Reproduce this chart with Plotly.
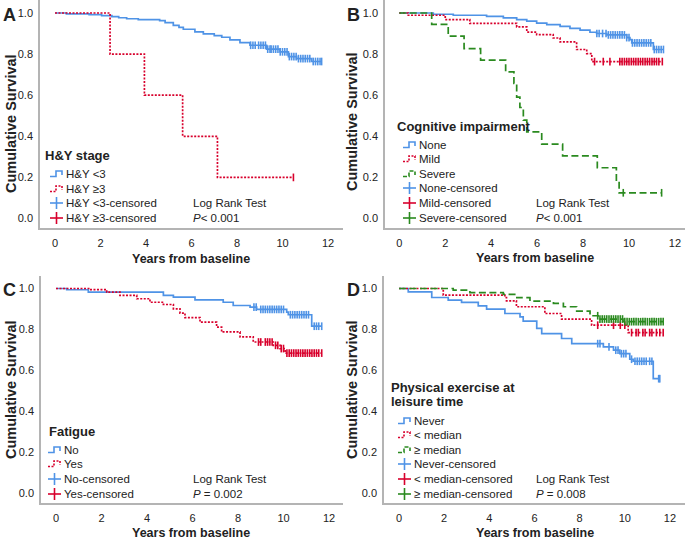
import plotly.graph_objects as go

W, H = 685, 541
FONT = "Liberation Sans, Arial, sans-serif"
BLUE = "#4f93e6"
RED = "#d8002c"
GREEN = "#2a8a1f"
AXIS = "#b4b4b4"
TXT = "#222222"
DOT = "2px,1.5px"
DASH = "7px,3.5px"

# ---------------- data ----------------
# Panel A: H&Y stage
A_lo_t = [0, 0.5, 1.5, 2.05, 2.5, 2.8, 3.15, 3.66, 4.6, 4.84, 5.2, 5.45, 5.64, 6.15, 6.52, 7.0, 7.33, 7.69, 8.13, 8.57, 9.3, 9.89, 10.26, 10.62, 11.28, 11.72]
A_lo_s = [1.0, 0.996, 0.992, 0.987, 0.982, 0.977, 0.972, 0.968, 0.963, 0.953, 0.940, 0.930, 0.921, 0.908, 0.898, 0.890, 0.882, 0.869, 0.856, 0.843, 0.824, 0.811, 0.788, 0.778, 0.764, 0.764]
A_lo_cens = [8.6, 8.7, 8.8, 8.95, 9.05, 9.15, 9.25, 9.35, 9.45, 9.5, 9.6, 9.7, 9.8, 9.9, 10.0, 10.1, 10.2, 10.3, 10.4, 10.5, 10.6, 10.7, 10.8, 10.9, 11.0, 11.1, 11.2, 11.35, 11.45, 11.55, 11.65, 11.72]
A_hi_t = [0, 2.42, 3.93, 5.61, 7.14, 10.48]
A_hi_s = [1.0, 0.8, 0.6, 0.4, 0.2, 0.2]
A_hi_cens = [10.48]

# Panel B: Cognitive impairment
B_none_t = [0, 1.48, 2.35, 3.8, 4.53, 5.11, 5.55, 5.98, 6.42, 7.0, 7.43, 7.87, 8.3, 8.59, 9.03, 9.9, 10.04, 10.12, 11.06, 11.5]
B_none_s = [1.0, 0.994, 0.989, 0.984, 0.976, 0.968, 0.96, 0.951, 0.943, 0.935, 0.925, 0.916, 0.906, 0.9, 0.893, 0.88, 0.87, 0.854, 0.822, 0.822]
B_none_cens = [8.6, 8.7, 8.85, 9.0, 9.1, 9.2, 9.3, 9.4, 9.5, 9.6, 9.7, 9.8, 9.9, 10.0, 10.15, 10.25, 10.35, 10.45, 10.55, 10.65, 10.75, 10.85, 10.95, 11.1, 11.2, 11.3, 11.4, 11.5]
B_mild_t = [0, 0.39, 2.0, 3.07, 5.11, 5.55, 5.98, 6.7, 7.0, 7.72, 8.16, 8.38, 11.45]
B_mild_s = [1.0, 0.989, 0.968, 0.949, 0.932, 0.907, 0.895, 0.878, 0.859, 0.822, 0.802, 0.763, 0.763]
B_mild_cens = [8.5, 8.88, 9.17, 9.6, 9.7, 9.8, 9.9, 10.0, 10.1, 10.2, 10.3, 10.4, 10.5, 10.6, 10.7, 10.8, 10.9, 11.0, 11.1, 11.2, 11.3, 11.45]
B_sev_t = [0, 1.41, 2.13, 2.82, 3.54, 4.63, 4.99, 5.11, 5.25, 5.4, 5.55, 6.2, 7.11, 8.62, 9.45, 9.57, 11.42]
B_sev_s = [1.0, 0.945, 0.887, 0.826, 0.77, 0.713, 0.656, 0.59, 0.539, 0.477, 0.42, 0.36, 0.303, 0.245, 0.185, 0.123, 0.123]
B_sev_cens = [9.75, 11.42]

# Panel C: Fatigue
C_no_t = [0, 0.47, 1.42, 4.72, 5.16, 6.11, 7.35, 7.79, 8.53, 8.82, 10.14, 10.21, 11.24, 11.68]
C_no_s = [1.0, 0.994, 0.982, 0.966, 0.958, 0.945, 0.933, 0.917, 0.909, 0.898, 0.885, 0.872, 0.816, 0.816]
C_no_cens = [8.7, 8.8, 9.0, 9.1, 9.2, 9.3, 9.4, 9.5, 9.6, 9.7, 9.8, 9.9, 10.0, 10.3, 10.4, 10.5, 10.6, 10.7, 10.8, 10.9, 11.0, 11.1, 11.35, 11.45, 11.55, 11.68]
C_yes_t = [0, 1.49, 2.23, 2.81, 3.55, 4.13, 4.72, 5.16, 5.45, 5.67, 6.33, 7.06, 7.28, 8.09, 8.67, 9.55, 9.85, 10.07, 11.68]
C_yes_s = [1.0, 0.995, 0.982, 0.966, 0.95, 0.933, 0.922, 0.901, 0.88, 0.858, 0.836, 0.812, 0.788, 0.764, 0.739, 0.723, 0.707, 0.685, 0.685]
C_yes_cens = [8.9, 9.0, 9.2, 9.3, 9.4, 9.5, 9.65, 9.75, 9.9, 10.0, 10.15, 10.25, 10.35, 10.45, 10.55, 10.65, 10.75, 10.85, 10.95, 11.05, 11.15, 11.25, 11.35, 11.45, 11.55, 11.68]

# Panel D: Physical exercise at leisure time
D_never_t = [0, 0.41, 1.45, 2.18, 2.77, 3.51, 3.88, 4.69, 5.36, 5.5, 6.1, 6.32, 7.2, 7.65, 9.05, 9.5, 9.78, 10.22, 10.37, 11.26, 11.55]
D_never_s = [1.0, 0.984, 0.956, 0.943, 0.932, 0.915, 0.899, 0.878, 0.862, 0.841, 0.805, 0.780, 0.756, 0.731, 0.715, 0.699, 0.682, 0.655, 0.645, 0.56, 0.56]
D_never_cens = [8.8, 8.9, 9.3, 9.6, 9.7, 9.85, 9.95, 10.05, 10.3, 10.45, 10.55, 10.65, 10.75, 10.85, 10.95, 11.1, 11.2, 11.5, 11.55]
D_lo_t = [0, 1.96, 4.69, 4.76, 5.2, 6.46, 7.2, 8.53, 10.15, 11.7]
D_lo_s = [1.0, 0.968, 0.956, 0.94, 0.911, 0.878, 0.851, 0.821, 0.785, 0.785]
D_lo_cens = [8.8, 9.5, 9.8, 10.0, 10.3, 10.5, 10.6, 10.8, 10.9, 11.1, 11.2, 11.4, 11.55, 11.7]
D_hi_t = [0, 2.4, 3.14, 4.62, 5.22, 5.8, 6.84, 7.28, 7.87, 8.46, 8.82, 9.92, 11.7]
D_hi_s = [1.0, 0.992, 0.98, 0.971, 0.955, 0.938, 0.927, 0.911, 0.890, 0.867, 0.851, 0.838, 0.838]
D_hi_cens = [8.8, 8.9, 9.0, 9.1, 9.2, 9.3, 9.4, 9.5, 9.6, 9.7, 9.8, 9.9, 10.0, 10.1, 10.2, 10.3, 10.4, 10.5, 10.6, 10.7, 10.8, 10.9, 11.0, 11.1, 11.2, 11.3, 11.4, 11.5, 11.6, 11.7]

# text
Y_TITLE = "Cumulative Survival"
X_TITLE = "Years from baseline"
X_TICKS = [0, 2, 4, 6, 8, 10, 12]
Y_TICKS = [0.0, 0.2, 0.4, 0.6, 0.8, 1.0]
Y_TICK_TEXT = ["0.0", "0.2", "0.4", "0.6", "0.8", "1.0"]
LOG_RANK = "Log Rank Test"

A_title = ["H&Y stage"]
A_labels = ["H&Y <3", "H&Y \u22653", "H&Y <3-censored", "H&Y \u22653-censored"]
A_p = "<i>P</i>< 0.001"
B_title = ["Cognitive impairment"]
B_labels = ["None", "Mild", "Severe", "None-censored", "Mild-censored", "Severe-censored"]
B_p = "<i>P</i>< 0.001"
C_title = ["Fatigue"]
C_labels = ["No", "Yes", "No-censored", "Yes-censored"]
C_p = "<i>P</i> = 0.002"
D_title = ["Physical exercise at", "leisure time"]
D_labels = ["Never", "< median", "\u2265 median", "Never-censored", "< median-censored", "\u2265 median-censored"]
D_p = "<i>P</i> = 0.008"

# ---------------- figure ----------------
def px(x):
    return x / W

def py(y):
    return 1 - y / H

def surv_at(t, ts, ss):
    v = ss[0]
    for a, b in zip(ts, ss):
        if a <= t:
            v = b
    return v

fig = go.Figure()

# panel geometry in pixels
panels = {
    "A": dict(ax="", l=40, r=343, t=0, b=228, x0=55, xu=22.75, y1=13, y0=218.5),
    "B": dict(ax="2", l=385, r=685, t=0, b=228, x0=399.3, xu=22.97, y1=13, y0=218),
    "C": dict(ax="3", l=41, r=343, t=276, b=503, x0=56, xu=22.75, y1=288.5, y0=493.5),
    "D": dict(ax="4", l=384, r=685, t=276, b=503, x0=399, xu=22.58, y1=288.5, y0=493.5),
}

layout_axes = {}
for name, p in panels.items():
    yu = p["y0"] - p["y1"]
    xr = [(p["l"] - p["x0"]) / p["xu"], (p["r"] - p["x0"]) / p["xu"]]
    yr = [(p["y0"] - p["b"]) / yu, (p["y0"] - p["t"]) / yu]
    suffix = p["ax"]
    layout_axes["xaxis" + suffix] = dict(
        domain=[px(p["l"]), px(p["r"])], range=xr, anchor="y" + suffix,
        tickvals=X_TICKS, ticktext=[str(v) for v in X_TICKS],
        showline=True, linecolor=AXIS, linewidth=1.5, showgrid=False, zeroline=False,
        ticks="", ticklabelstandoff=4, tickfont=dict(family=FONT, size=11, color=TXT),
    )
    layout_axes["yaxis" + suffix] = dict(
        domain=[py(p["b"]), py(p["t"])], range=yr, anchor="x" + suffix,
        tickvals=Y_TICKS, ticktext=Y_TICK_TEXT,
        showline=True, linecolor=AXIS, linewidth=1.5, showgrid=False, zeroline=False,
        ticks="", ticklabelstandoff=3, tickfont=dict(family=FONT, size=11, color=TXT),
    )

def add_curve(panel, ts, ss, cens, color, dash):
    suffix = panels[panel]["ax"]
    fig.add_trace(go.Scatter(
        x=ts, y=ss, mode="lines", line=dict(color=color, width=1.7, dash=dash, shape="hv"),
        xaxis="x" + suffix, yaxis="y" + suffix, showlegend=False, hoverinfo="skip"))
    fig.add_trace(go.Scatter(
        x=cens, y=[surv_at(c, ts, ss) for c in cens], mode="markers",
        marker=dict(symbol="line-ns-open", size=5.5, color=color, line=dict(color=color, width=1.6)),
        xaxis="x" + suffix, yaxis="y" + suffix, showlegend=False, hoverinfo="skip"))

add_curve("A", A_lo_t, A_lo_s, A_lo_cens, BLUE, "solid")
add_curve("A", A_hi_t, A_hi_s, A_hi_cens, RED, DOT)
add_curve("B", B_none_t, B_none_s, B_none_cens, BLUE, "solid")
add_curve("B", B_mild_t, B_mild_s, B_mild_cens, RED, DOT)
add_curve("B", B_sev_t, B_sev_s, B_sev_cens, GREEN, DASH)
add_curve("C", C_no_t, C_no_s, C_no_cens, BLUE, "solid")
add_curve("C", C_yes_t, C_yes_s, C_yes_cens, RED, DOT)
add_curve("D", D_never_t, D_never_s, D_never_cens, BLUE, "solid")
add_curve("D", D_lo_t, D_lo_s, D_lo_cens, RED, DOT)
add_curve("D", D_hi_t, D_hi_s, D_hi_cens, GREEN, DASH)

annotations = []
shapes = []

def text(x, y, s, size=11.5, bold=False, xanchor="left", angle=0):
    if bold:
        s = "<b>" + s + "</b>"
    annotations.append(dict(
        x=px(x), y=py(y), xref="paper", yref="paper", text=s, showarrow=False,
        xanchor=xanchor, yanchor="middle", textangle=angle,
        font=dict(family=FONT, size=size, color=TXT)))

def path(points, color, dash="solid"):
    d = "M " + " L ".join(f"{px(a):.5f},{py(b):.5f}" for a, b in points)
    shapes.append(dict(type="path", path=d, xref="paper", yref="paper",
                       line=dict(color=color, width=1.6, dash=dash)))

def step_icon(x0, yc, color, dash):
    path([(x0, yc + 2.5), (x0 + 6, yc + 2.5), (x0 + 6, yc - 3), (x0 + 12, yc - 3), (x0 + 12, yc + 1)], color, dash)

def plus_icon(x0, yc, color):
    path([(x0, yc), (x0 + 13, yc)], color)
    path([(x0 + 6.5, yc - 6), (x0 + 6.5, yc + 6)], color)

legends = [
    dict(title=A_title, tpos=(43, 155), rows=[174, 189, 203, 218], ix=50, tx=64, lr=191,
         labels=A_labels, p=A_p, styles=[(BLUE, "solid"), (RED, DOT)]),
    dict(title=B_title, tpos=(395, 126), rows=[145, 159, 174, 188, 203, 218], ix=403, tx=417, lr=534,
         labels=B_labels, p=B_p, styles=[(BLUE, "solid"), (RED, DOT), (GREEN, "4px,2px")]),
    dict(title=C_title, tpos=(47, 431), rows=[450, 464, 479, 494], ix=48, tx=62, lr=191,
         labels=C_labels, p=C_p, styles=[(BLUE, "solid"), (RED, DOT)]),
    dict(title=D_title, tpos=(389, 387), rows=[421, 435, 450, 464, 479, 494], ix=398, tx=412, lr=534,
         labels=D_labels, p=D_p, styles=[(BLUE, "solid"), (RED, DOT), (GREEN, "4px,2px")]),
]

for lg in legends:
    for i, line in enumerate(lg["title"]):
        text(lg["tpos"][0], lg["tpos"][1] + 14 * i, line, size=13, bold=True)
    n = len(lg["styles"])
    for i, (lab, yr) in enumerate(zip(lg["labels"], lg["rows"])):
        color, dash = lg["styles"][i % n]
        if i < n:
            step_icon(lg["ix"], yr, color, dash)
        else:
            plus_icon(lg["ix"], yr, color)
        text(lg["tx"], yr, lab)
    text(lg["lr"], lg["rows"][-2], LOG_RANK)
    text(lg["lr"], lg["rows"][-1], lg["p"])

# panel letters
for letter, (x, y) in {"A": (1, 15), "B": (345, 15), "C": (1, 290), "D": (345, 290)}.items():
    text(x, y, letter, size=18, bold=True)

# axis titles
for (yx, yy), (xx, xy) in [((11, 124), (191, 259)), ((352, 122), (535, 258)),
                           ((11, 390), (191, 533)), ((352, 390), (535, 533))]:
    text(yx, yy, Y_TITLE, size=14.5, bold=True, xanchor="center", angle=-90)
    text(xx, xy, X_TITLE, size=12.5, bold=True, xanchor="center")

fig.update_layout(
    width=W, height=H, margin=dict(l=0, r=0, t=0, b=0),
    paper_bgcolor="white", plot_bgcolor="white", showlegend=False,
    annotations=annotations, shapes=shapes, **layout_axes,
)

fig.write_html("out.html", config={"displayModeBar": False},
               post_script="document.body.style.margin='0';document.body.style.overflow='hidden';")
